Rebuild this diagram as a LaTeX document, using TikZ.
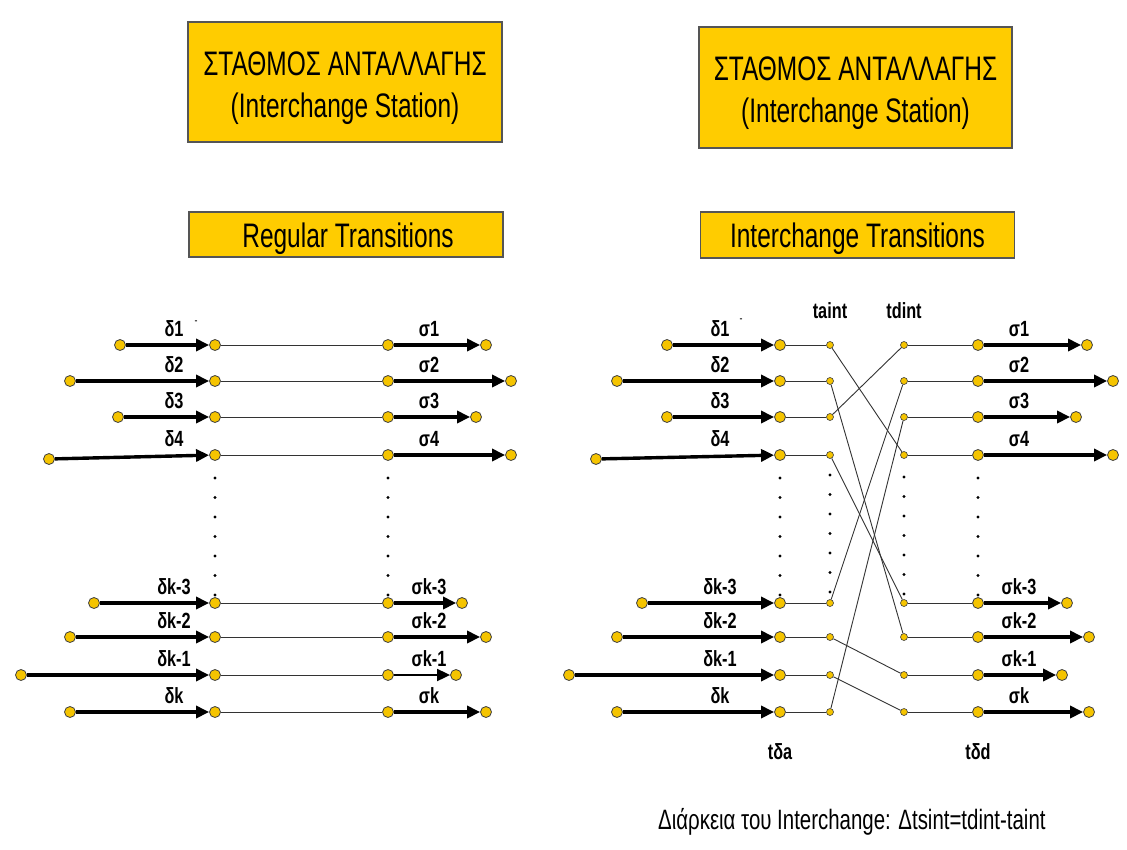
\documentclass[tikz,border=0pt]{standalone}
\usepackage{fontspec}
\setmainfont{Liberation Sans}
\newfontfamily\boxfont[FakeStretch=0.72]{Liberation Sans}
\newfontfamily\labfont[FakeStretch=0.74]{Liberation Sans}
\newfontfamily\capfont[FakeStretch=0.73]{Liberation Sans}
\usetikzlibrary{arrows.meta}
\definecolor{gold}{HTML}{FFCC00}
\definecolor{dotyel}{HTML}{F5C400}
\definecolor{edge}{HTML}{555555}
\begin{document}
\begin{tikzpicture}[x=1pt,y=-1pt,
  bigdot/.style={circle,fill=dotyel,draw=black!75,line width=0.8pt,inner sep=0pt,minimum size=11pt},
  smalldot/.style={circle,fill=dotyel,draw=black!75,line width=0.6pt,inner sep=0pt,minimum size=7pt},
  fatarrow/.style={line width=3.4pt,-{Triangle[length=13pt,width=12pt]}},
  thinlink/.style={line width=0.9pt,draw=black!80},
  lab/.style={font=\labfont\bfseries\fontsize{22}{22}\selectfont,inner sep=0pt,anchor=base},
  boxtxt/.style={font=\boxfont\fontsize{34}{34}\selectfont,inner sep=0pt,anchor=base},
  titlebox/.style={draw=edge,line width=1.3pt,fill=gold,inner sep=0pt},
  vdot/.style={circle,fill=black,inner sep=0pt,minimum size=3.4pt}
]
\useasboundingbox[fill=white] (0,0) rectangle (1127,849);

% ---------- title boxes ----------
\node[titlebox,minimum width=314pt,minimum height=120pt] (boxL) at (345,82) {};
\node[boxtxt] (boxLa) at (345,75) {ΣΤΑΘΜΟΣ ΑΝΤΑΛΛΑΓΗΣ};
\node[boxtxt] (boxLb) at (345,117) {(Interchange Station)};
\node[titlebox,minimum width=313pt,minimum height=121pt] (boxR) at (855.5,87.5) {};
\node[boxtxt] (boxRa) at (855.5,80) {ΣΤΑΘΜΟΣ ΑΝΤΑΛΛΑΓΗΣ};
\node[boxtxt] (boxRb) at (855.5,122) {(Interchange Station)};

\node[titlebox,minimum width=314pt,minimum height=45pt] (regL) at (346,234.5) {};
\node[boxtxt] (regLt) at (348,247) {Regular Transitions};
\node[titlebox,minimum width=314pt,minimum height=46pt] (regR) at (857.5,235) {};
\node[boxtxt] (regRt) at (857.5,247) {Interchange Transitions};

% ---------- rows ----------
\foreach \i/\y/\sy/\ls/\le/\rs/\re/\d/\s/\w in {
  1/345/345/120/486/667/1087/δ1/σ1/3.4,
  2/381/381/70/511/617/1113/δ2/σ2/3.4,
  3/417/417/118/476/667/1076/δ3/σ3/3.4,
  4/455/459/49/511/596/1113/δ4/σ4/3.4,
  5/603/603/94/462/642/1067/δk-3/σk-3/3.4,
  6/637/637/70/486/617/1089/δk-2/σk-2/3.4,
  7/675/675/21/456/569/1062/δk-1/σk-1/1.8,
  8/712/712/70/486/617/1089/δk/σk/3.4}{
  % left diagram
  \node[bigdot] (La\i) at (\ls,\sy) {};
  \node[bigdot] (Lp\i) at (215,\y) {};
  \node[bigdot] (Lq\i) at (388,\y) {};
  \node[bigdot] (Le\i) at (\le,\y) {};
  \draw[fatarrow] (La\i) -- (Lp\i);
  \draw[thinlink] (Lp\i) -- (Lq\i);
  \draw[fatarrow,line width=\w pt] (Lq\i) -- (Le\i);
  \node[lab] (Ld\i) at (174,\y-9) {\d};
  \node[lab] (Ls\i) at (429,\y-9) {\s};
  % right diagram
  \node[bigdot] (Ra\i) at (\rs,\sy) {};
  \node[bigdot] (Rp\i) at (780,\y) {};
  \node[smalldot] (Rs\i) at (830,\y) {};
  \node[smalldot] (Rt\i) at (904,\y) {};
  \node[bigdot] (Rq\i) at (978,\y) {};
  \node[bigdot] (Re\i) at (\re,\y) {};
  \draw[fatarrow] (Ra\i) -- (Rp\i);
  \draw[thinlink] (Rp\i) -- (Rs\i);
  \draw[thinlink] (Rt\i) -- (Rq\i);
  \draw[fatarrow] (Rq\i) -- (Re\i);
  \node[lab] (Rd\i) at (720,\y-9) {\d};
  \node[lab] (Rl\i) at (1019,\y-9) {\s};
}

% crossing connections taint -> tdint
\foreach \a/\b in {1/4,2/6,3/1,4/5,5/2,6/7,7/8,8/3}{
  \draw[thinlink] (Rs\a) -- (Rt\b);
}

% vertical dotted columns
\foreach \x/\o in {215/0,388/0,780/0,830/-3,904/-1,978/0}{
  \foreach \k in {0,...,6}{
    \node[vdot] (dot\x-\k) at (\x,478+\o+19.5*\k) {};
  }
}

% small dashes after delta1
\node[font=\labfont\fontsize{12}{12}\selectfont,inner sep=0pt] (dashL) at (196,323) {-};
\node[font=\labfont\fontsize{12}{12}\selectfont,inner sep=0pt] (dashR) at (741,321) {-};

% column labels
\node[lab] (taint) at (830,318) {taint};
\node[lab] (tdint) at (904,318) {tdint};
\node[lab] (tda) at (780,759) {tδa};
\node[lab] (tdd) at (978,759) {tδd};

% caption
\node[font=\capfont\fontsize{28}{28}\selectfont,inner sep=0pt,anchor=base west] (caption) at (658,829) {Διάρκεια του Interchange: Δtsint=tdint-taint};
\end{tikzpicture}
\end{document}
